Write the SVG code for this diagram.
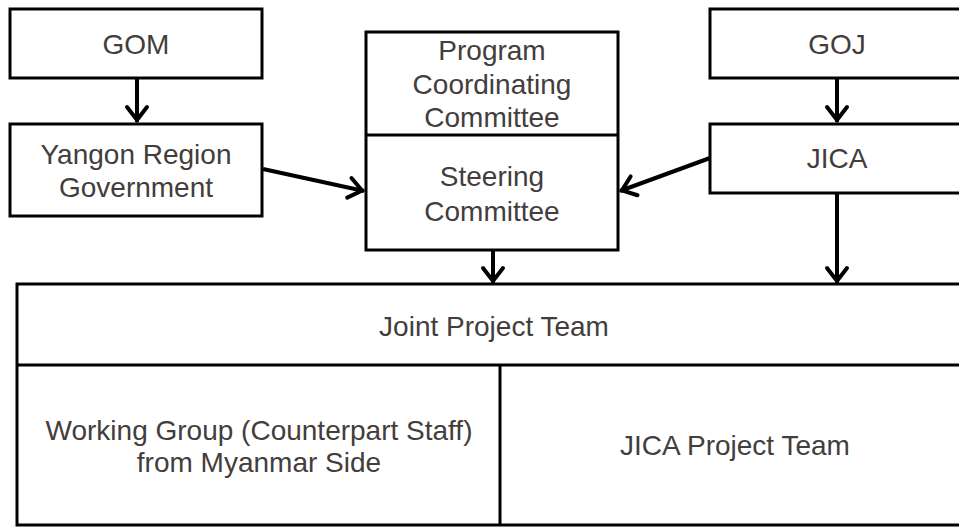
<svg xmlns="http://www.w3.org/2000/svg" width="959" height="527" viewBox="0 0 959 527">
<style>
.box{fill:#fff;stroke:#000;stroke-width:3}
.div{fill:none;stroke:#000;stroke-width:3}
.t{font-family:"Liberation Sans",Arial,sans-serif;font-size:28px;fill:#433d3b;text-anchor:middle}
.c{fill:none;stroke:#000;stroke-width:4}
</style>
<defs>
<marker id="arr" markerUnits="userSpaceOnUse" markerWidth="30" markerHeight="30" viewBox="-20 -15 30 30" refX="0" refY="0" orient="auto">
<path d="M-15,-10 L-2,0 L-15,10" fill="none" stroke="#000" stroke-width="4" stroke-linecap="round" stroke-linejoin="miter"/>
</marker>
</defs>
<rect width="959" height="527" fill="#fff"/>
<g id="gom"><rect class="box" x="10" y="9" width="252" height="69"/><text class="t" x="136" y="54">GOM</text></g>
<g id="yangon"><rect class="box" x="10" y="124" width="252" height="92"/><text class="t" x="136" y="164">Yangon Region</text><text class="t" x="136" y="197">Government</text></g>
<g id="committee"><rect class="box" x="366" y="32" width="252" height="218"/><line class="div" x1="366" y1="135" x2="618" y2="135"/>
<text class="t" x="492" y="60">Program</text><text class="t" x="492" y="94">Coordinating</text><text class="t" x="492" y="127">Committee</text>
<text class="t" x="492" y="186">Steering</text><text class="t" x="492" y="221">Committee</text></g>
<g id="goj"><rect class="box" x="710" y="9" width="254" height="69"/><text class="t" x="837" y="54">GOJ</text></g>
<g id="jica"><rect class="box" x="710" y="124" width="254" height="69"/><text class="t" x="837" y="168">JICA</text></g>
<g id="joint"><rect class="box" x="17" y="284" width="953" height="241"/><line class="div" x1="17" y1="365" x2="970" y2="365"/><line class="div" x1="500" y1="365" x2="500" y2="525"/>
<text class="t" x="494" y="336">Joint Project Team</text>
<text class="t" x="259" y="440">Working Group (Counterpart Staff)</text><text class="t" x="259" y="472">from Myanmar Side</text>
<text class="t" x="735" y="455">JICA Project Team</text></g>
<g id="connectors">
<line class="c" x1="137" y1="78" x2="137" y2="122" marker-end="url(#arr)"/>
<line class="c" x1="837" y1="78" x2="837" y2="122" marker-end="url(#arr)"/>
<line class="c" x1="837" y1="193" x2="837" y2="283" marker-end="url(#arr)"/>
<line class="c" x1="493" y1="250" x2="493" y2="283" marker-end="url(#arr)"/>
<line class="c" x1="263" y1="169" x2="364" y2="191" marker-end="url(#arr)"/>
<line class="c" x1="710" y1="158" x2="620" y2="191" marker-end="url(#arr)"/>
</g>
</svg>
